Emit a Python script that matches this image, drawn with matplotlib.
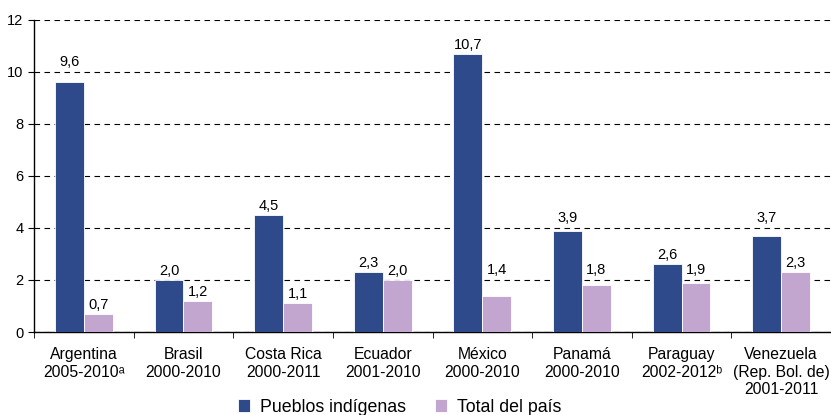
import matplotlib.pyplot as plt
import numpy as np

plt.rcParams['font.family'] = ['Liberation Sans', 'DejaVu Sans']

countries = ["Argentina\n2005-2010ᵃ", "Brasil\n2000-2010", "Costa Rica\n2000-2011",
             "Ecuador\n2001-2010", "México\n2000-2010", "Panamá\n2000-2010",
             "Paraguay\n2002-2012ᵇ", "Venezuela\n(Rep. Bol. de)\n2001-2011"]
indigenas = [9.6, 2.0, 4.5, 2.3, 10.7, 3.9, 2.6, 3.7]
total = [0.7, 1.2, 1.1, 2.0, 1.4, 1.8, 1.9, 2.3]

blue = "#2E4A8A"
pink = "#C3A6D0"

fig = plt.figure(figsize=(8.31, 4.15), dpi=100)
ax = fig.add_axes([34 / 831, 0.2, 1 - 34 / 831, 0.752])

x = np.arange(len(countries))
w = 0.29
b1 = ax.bar(x - w / 2, indigenas, w, color=blue, edgecolor="white", linewidth=0.6,
            label="Pueblos indígenas", zorder=3)
b2 = ax.bar(x + w / 2, total, w, color=pink, edgecolor="white", linewidth=0.6,
            label="Total del país", zorder=3)

ymax = 12
grid = np.arange(2, 13, 2)
px = ymax / 312  # one pixel in data units

# value labels: sit just above the bar, but hop over a gridline if they would touch it
for bars in (b1, b2):
    for r in bars:
        h = r.get_height()
        base = h + 5 * px
        for g in grid:
            if base - 3 * px < g < base + 12 * px:
                base = g + 6 * px
        ax.text(r.get_x() + r.get_width() / 2, base, f"{h:.1f}".replace(".", ","),
                ha="center", va="baseline", fontsize=10.5, zorder=4)

ax.set_xlim(-0.5, len(countries) - 0.5)
ax.set_ylim(0, ymax)
ax.set_yticks(range(0, 13, 2))
ax.yaxis.grid(True, linestyle=(0, (5, 4)), color="black", linewidth=0.8, zorder=0)
ax.set_axisbelow(True)

ax.set_xticks(x)
ax.set_xticklabels(countries, fontsize=11.3)
ax.set_xticks(np.arange(-0.5, len(countries)), minor=True)
ax.tick_params(axis="x", which="major", length=0, pad=11)
ax.tick_params(axis="x", which="minor", length=4, direction="out")
ax.tick_params(axis="y", labelsize=10.5, length=4)

for s in ("top", "right"):
    ax.spines[s].set_visible(False)
ax.spines["left"].set_linewidth(1)
ax.spines["bottom"].set_linewidth(1)

fig.legend(handles=[b1, b2], loc="center left", bbox_to_anchor=(238 / 831, 1 - 407 / 415),
           ncol=2, frameon=False, fontsize=12.8, handlelength=0.7, handleheight=0.7,
           columnspacing=1.6, handletextpad=0.55, borderpad=0, borderaxespad=0)

fig.savefig("out.png", dpi=100)
